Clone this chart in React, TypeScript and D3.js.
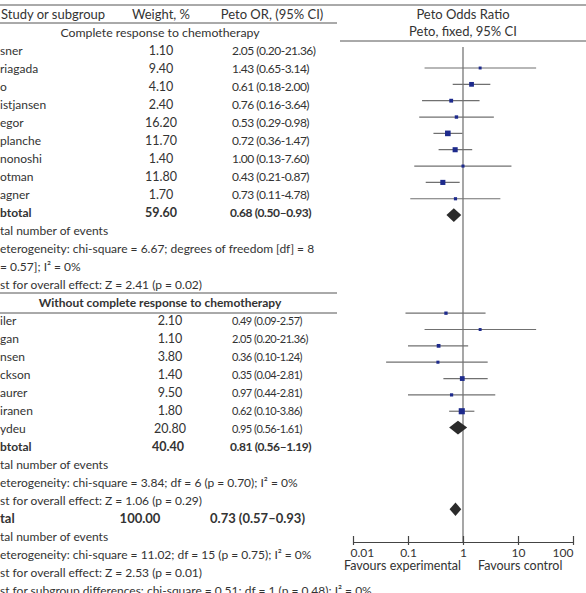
import React, { useEffect, useRef } from 'react';
import * as d3 from 'd3';

const WIDTH = 586;
const HEIGHT = 593;

const FONT = 'Lato, "Open Sans", sans-serif';
const INK = '#333';
const RULE = '#555';
const SQUARE = '#1d2a8c';
const DIAMOND = '#2b2b2b';

// Complete response subgroup
const g1Names = ['sner', 'riagada', 'o', 'istjansen', 'egor', 'planche', 'nonoshi', 'otman', 'agner'];
const g1Weights = [1.1, 9.4, 4.1, 2.4, 16.2, 11.7, 1.4, 11.8, 1.7];
const g1Or = [2.05, 1.43, 0.61, 0.76, 0.53, 0.72, 1.0, 0.43, 0.73];
const g1Lo = [0.2, 0.65, 0.18, 0.16, 0.29, 0.36, 0.13, 0.21, 0.11];
const g1Hi = [21.36, 3.14, 2.0, 3.64, 0.98, 1.47, 7.6, 0.87, 4.78];

// Without complete response subgroup
const g2Names = ['iler', 'gan', 'nsen', 'ckson', 'aurer', 'iranen', 'ydeu'];
const g2Weights = [2.1, 1.1, 3.8, 1.4, 9.5, 1.8, 20.8];
const g2Or = [0.49, 2.05, 0.36, 0.35, 0.97, 0.62, 0.95];
const g2Lo = [0.09, 0.2, 0.1, 0.04, 0.44, 0.1, 0.56];
const g2Hi = [2.57, 21.36, 1.24, 2.81, 2.81, 3.86, 1.61];

// Pooled estimates: subtotal 1, subtotal 2, overall
const pooledWeights = [59.6, 40.4, 100.0];
const pooledOr = [0.68, 0.81, 0.73];
const pooledLo = [0.5, 0.56, 0.57];
const pooledHi = [0.93, 1.19, 0.93];

const g1Notes = [
  'tal number of events',
  'eterogeneity: chi-square = 6.67; degrees of freedom [df] = 8',
  '= 0.57]; I² = 0%',
  'st for overall effect: Z = 2.41 (p = 0.02)',
];
const g2Notes = [
  'tal number of events',
  'eterogeneity: chi-square = 3.84; df = 6 (p = 0.70); I² = 0%',
  'st for overall effect: Z = 1.06 (p = 0.29)',
];
const totalNotes = [
  'tal number of events',
  'eterogeneity: chi-square = 11.02; df = 15 (p = 0.75); I² = 0%',
  'st for overall effect: Z = 2.53 (p = 0.01)',
  'st for subgroup differences: chi-square = 0.51; df = 1 (p = 0.48); I² = 0%',
];

const axisTicks = [0.01, 0.1, 1, 10, 100];

// plot row slots (the plot uses its own row spacing)
const g1Slots = [0, 1, 2, 3, 4, 5, 6, 7, 8];
const g2Slots = [15, 16, 17, 18, 19, 20, 21];
const pooledSlots = [9, 22, 27];

const fmt2 = d3.format('.2f');
const ciText = (or: number, lo: number, hi: number, dash = '-') =>
  `${fmt2(or)} (${fmt2(lo)}${dash}${fmt2(hi)})`;

interface TextOpts {
  anchor?: string;
  size?: number;
  bold?: boolean;
  spacing?: number;
}

const App: React.FC = () => {
  const svgRef = useRef<SVGSVGElement>(null);

  useEffect(() => {
    if (!svgRef.current) return;
    const svg = d3.select(svgRef.current);
    svg.selectAll('*').remove();
    svg.attr('viewBox', `0 0 ${WIDTH} ${HEIGHT}`).style('font-family', FONT);

    // table line k -> text baseline
    const lineY = (k: number) => 18.5 + 18 * k;

    const text = (x: number, y: number, s: string, opts: TextOpts = {}) =>
      svg
        .append('text')
        .attr('x', x)
        .attr('y', y)
        .attr('text-anchor', opts.anchor || 'start')
        .style('font-size', `${opts.size || 12}px`)
        .style('font-weight', opts.bold ? 700 : 400)
        .style('letter-spacing', `${opts.spacing || 0}px`)
        .style('fill', INK)
        .text(s);

    const rule = (x1: number, x2: number, y: number) =>
      svg
        .append('line')
        .attr('x1', x1)
        .attr('x2', x2)
        .attr('y1', y)
        .attr('y2', y)
        .attr('stroke', RULE)
        .attr('stroke-width', 1);

    // header
    rule(0, WIDTH, 5);
    rule(0, 337, 23);
    rule(340, WIDTH, 41);
    text(1, lineY(0), 'Study or subgroup', { size: 13 });
    text(161, lineY(0), 'Weight, %', { anchor: 'middle', size: 13 });
    text(272, lineY(0), 'Peto OR, (95% CI)', { anchor: 'middle', size: 13 });
    text(160, lineY(1), 'Complete response to chemotherapy', { anchor: 'middle', size: 12.3 });
    text(463, lineY(0), 'Peto Odds Ratio', { anchor: 'middle', size: 13 });
    text(463, lineY(1) - 0.5, 'Peto, fixed, 95% CI', { anchor: 'middle', size: 13 });

    // subgroup 1 rows
    g1Names.forEach((n, i) => {
      const y = lineY(2 + i);
      text(0, y, n);
      text(161, y, fmt2(g1Weights[i]), { anchor: 'middle', size: 12.5 });
      text(232, y, ciText(g1Or[i], g1Lo[i], g1Hi[i]), { spacing: -0.5 });
    });
    text(0, lineY(11), 'btotal', { bold: true });
    text(161, lineY(11), fmt2(pooledWeights[0]), { anchor: 'middle', bold: true, size: 12.5 });
    text(230, lineY(11), ciText(pooledOr[0], pooledLo[0], pooledHi[0], '–'), {
      bold: true,
      spacing: -0.4,
    });
    g1Notes.forEach((s, i) => text(0, lineY(12 + i), s));

    rule(0, 337, 293);
    text(160, lineY(16), 'Without complete response to chemotherapy', {
      anchor: 'middle',
      bold: true,
    });
    rule(0, 337, 313);

    // subgroup 2 rows
    g2Names.forEach((n, i) => {
      const y = lineY(17 + i);
      text(0, y, n);
      text(170, y, fmt2(g2Weights[i]), { anchor: 'middle', size: 12.5 });
      text(232, y, ciText(g2Or[i], g2Lo[i], g2Hi[i]), { size: 11, spacing: -0.5 });
    });
    text(0, lineY(24), 'btotal', { bold: true });
    text(168, lineY(24), fmt2(pooledWeights[1]), { anchor: 'middle', bold: true, size: 12.5 });
    text(230, lineY(24), ciText(pooledOr[1], pooledLo[1], pooledHi[1], '–'), {
      bold: true,
      spacing: -0.4,
    });
    g2Notes.forEach((s, i) => text(0, lineY(25 + i), s));

    // overall
    text(0, lineY(28), 'tal', { bold: true, size: 13 });
    text(140, lineY(28), fmt2(pooledWeights[2]), { anchor: 'middle', bold: true, size: 13 });
    text(210, lineY(28), ciText(pooledOr[2], pooledLo[2], pooledHi[2], '–'), {
      bold: true,
      size: 13,
    });
    totalNotes.forEach((s, i) => text(0, lineY(29 + i), s));

    // forest plot
    const x = d3.scaleLog().domain([0.01, 100]).range([353, 573]);
    const row = d3.scaleLinear().domain([0, 29]).range([68, 542]);
    const plot = svg.append('g');

    plot
      .append('line')
      .attr('x1', x(1))
      .attr('x2', x(1))
      .attr('y1', 47)
      .attr('y2', row(29))
      .attr('stroke', '#777')
      .attr('stroke-width', 1.3);

    const studies = [
      ...g1Slots.map((s, i) => ({ slot: s, or: g1Or[i], lo: g1Lo[i], hi: g1Hi[i], w: g1Weights[i] })),
      ...g2Slots.map((s, i) => ({ slot: s, or: g2Or[i], lo: g2Lo[i], hi: g2Hi[i], w: g2Weights[i] })),
    ];

    plot
      .selectAll('.ci')
      .data(studies)
      .enter()
      .append('line')
      .attr('x1', d => x(d.lo))
      .attr('x2', d => x(d.hi))
      .attr('y1', d => row(d.slot))
      .attr('y2', d => row(d.slot))
      .attr('stroke', '#707070')
      .attr('stroke-width', 1.2);

    const side = (w: number) => 2 + 0.9 * Math.sqrt(w);
    plot
      .selectAll('.sq')
      .data(studies)
      .enter()
      .append('rect')
      .attr('x', d => x(d.or) - side(d.w) / 2)
      .attr('y', d => row(d.slot) - side(d.w) / 2)
      .attr('width', d => side(d.w))
      .attr('height', d => side(d.w))
      .attr('fill', SQUARE);

    pooledSlots.forEach((s, i) => {
      const cy = row(s);
      const hh = 6.8;
      plot
        .append('path')
        .attr(
          'd',
          `M${x(pooledLo[i])},${cy}L${x(pooledOr[i])},${cy - hh}L${x(pooledHi[i])},${cy}L${x(pooledOr[i])},${cy + hh}Z`,
        )
        .attr('fill', DIAMOND);
    });

    const axis = plot
      .append('g')
      .attr('transform', `translate(0,${row(29)})`)
      .call(
        d3
          .axisBottom(x)
          .tickValues(axisTicks)
          .tickFormat(d => String(d))
          .tickSizeInner(-6)
          .tickSizeOuter(0)
          .tickPadding(6),
      );
    axis.select('.domain').attr('stroke', '#444').attr('stroke-width', 1.2);
    axis.selectAll('.tick line').attr('y1', 3).attr('stroke', '#444').attr('stroke-width', 1.2);
    axis
      .selectAll('.tick text')
      .style('font-family', FONT)
      .style('font-size', '12px')
      .style('fill', INK)
      .attr('text-anchor', (_d, i) => (i === 0 ? 'start' : i === axisTicks.length - 1 ? 'end' : 'middle'))
      .attr('dx', (_d, i) => (i === 0 ? -3 : 0));

    plot
      .append('text')
      .attr('x', x(1) - 2)
      .attr('y', 570)
      .attr('text-anchor', 'end')
      .style('font-size', '12.5px')
      .style('fill', INK)
      .text('Favours experimental');
    plot
      .append('text')
      .attr('x', x(1) + 15)
      .attr('y', 570)
      .style('font-size', '12.5px')
      .style('fill', INK)
      .text('Favours control');
  }, []);

  return (
    <svg
      ref={svgRef}
      width={WIDTH}
      height={HEIGHT}
      style={{ position: 'absolute', left: 0, top: 0, background: '#fff' }}
    />
  );
};

export default App;
